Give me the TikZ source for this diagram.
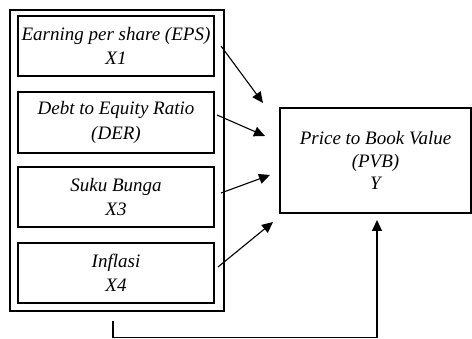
\documentclass[tikz,border=0pt]{standalone}
\usepackage{fontspec}
\setmainfont{Liberation Serif}
\usetikzlibrary{arrows.meta}
\begin{document}
\begin{tikzpicture}[x=1pt,y=-1pt,
  box/.style={draw, line width=1.2pt, inner sep=0pt, align=center,
    font=\fontsize{19}{24.5}\selectfont\itshape},
  arr/.style={line width=1.1pt, -{Triangle[length=11pt,width=10pt]}}]
\useasboundingbox (0,0) rectangle (472,339);
\node[draw, line width=1.2pt, minimum width=214pt, minimum height=301pt] (outer) at (117,160.5) {};
\node[box, minimum width=196pt, minimum height=60pt] (b1) at (116,46) {Earning per share (EPS)\\X1};
\node[box, minimum width=196pt, minimum height=61pt] (b2) at (116,122.5) {Debt to Equity Ratio\\(DER)};
\node[box, minimum width=196pt, minimum height=60pt] (b3) at (116,197) {Suku Bunga\\X3};
\node[box, minimum width=196pt, minimum height=60pt] (b4) at (116,273) {Inflasi\\X4};
\node[box, font=\fontsize{19}{22.5}\selectfont\itshape, minimum width=191pt, minimum height=105pt] (y) at (375.5,160.5) {Price to Book Value\\(PVB)\\Y};
\coordinate (s1) at (221,46);
\coordinate (s2) at (217,115);
\coordinate (s3) at (221,193);
\coordinate (s4) at (218,267);
\coordinate (t1) at (263,103);
\coordinate (t2) at (265,136);
\coordinate (t3) at (270,175);
\coordinate (t4) at (273,222);
\draw[arr] (s1) -- (t1);
\draw[arr] (s2) -- (t2);
\draw[arr] (s3) -- (t3);
\draw[arr] (s4) -- (t4);
\coordinate (bs) at (113,321);
\coordinate (bt) at (377,220);
\draw[arr] (bs) -- (113,337.5) -| (bt);
\end{tikzpicture}
\end{document}
